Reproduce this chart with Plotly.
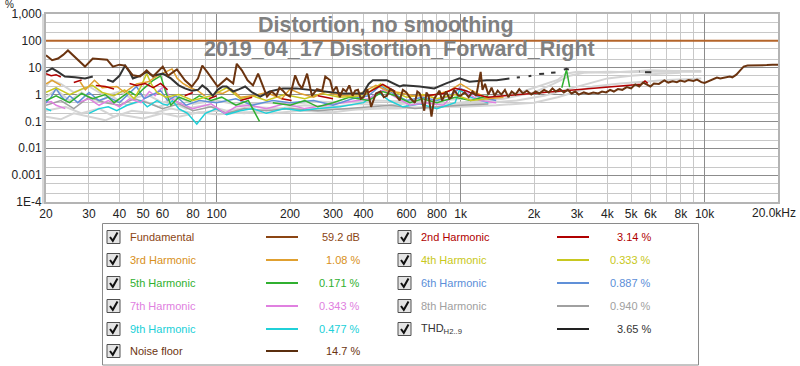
import math
import plotly.graph_objects as go

# ---------------- data (frequency in Hz, level in %) ----------------
fund_f = [20, 20000]
fund_v = [100, 100]

noise_f = [20, 21.2, 22.4, 23.5, 24.6, 26.3, 28.9, 31.1, 33.5, 35.6, 37.6, 40, 42.2, 45.4, 48.6, 51.7, 54.9,
           60.2, 63.2, 68.8, 74.2, 79.2, 84, 87.4, 91.5, 96.6, 101, 110, 117, 121, 127, 134, 141, 148, 155,
           161, 168, 176, 181, 187, 193, 200, 210, 217, 224, 235, 246, 258, 271, 279, 292, 300, 310, 320, 330,
           340, 350, 361, 370, 380, 390, 400, 415, 430, 450, 470, 485,
           499, 515, 530, 545, 563, 580, 600, 625, 650, 665, 680, 695, 710, 725, 740, 760, 780, 800, 820, 840,
           873, 900, 920, 940, 960, 980,
           1000, 1040, 1080, 1120, 1160, 1209, 1230, 1260, 1300, 1340, 1380, 1420, 1470, 1520, 1570, 1620,
           1680, 1740, 1800, 1870, 1950, 2030, 2100, 2200, 2300, 2380, 2455, 2550, 2650, 2750, 2850, 2950,
           3050, 3200, 3350, 3500, 3665, 3800, 3950, 4100, 4250, 4414, 4600, 4800, 5000, 5200, 5400, 5600,
           5835, 6000, 6200, 6500, 6842, 7100, 7400, 7700, 7947, 8300, 8600, 9000, 9315, 9700, 10000, 10300,
           10534, 10900, 11242, 11600, 12000, 12400, 12690, 13000, 13500, 14000, 14464, 15000, 16316, 17000,
           18000, 19000, 20000]
noise_v = [29, 19, 22, 30, 44, 25, 11, 22, 21, 20, 11, 13, 12, 5.2, 4.7, 8, 4.7,
           11, 5, 8.6, 3.4, 2, 4, 12, 7, 3.4, 2, 4, 2.6, 14, 8, 3.4, 2.2, 6, 2.2,
           0.84, 1.3, 0.92, 1.8, 1.4, 1.0, 0.84, 5.2, 2.5, 1.7, 6, 0.9, 1.6, 1.4, 4.7, 3.4, 1.3, 2.0, 0.8, 1.6,
           1.3, 2.2, 0.9, 1.4, 1.5, 0.7, 0.8, 1.6, 0.35, 1.1, 1.3, 0.8,
           0.9, 1.6, 1.4, 0.9, 0.6, 1.5, 1.2, 0.7, 0.5, 1.3, 1.1, 0.6, 0.25, 1.2, 0.9, 0.15, 0.7, 1.0, 1.4, 0.6,
           1.3, 0.7, 0.8, 1.5, 1.2, 0.9,
           0.9, 1.2, 0.8, 1.3, 0.9, 7, 1.5, 2.5, 1.0, 1.8, 0.9, 1.4, 1.0, 1.5, 0.8, 1.3,
           1.0, 1.6, 1.1, 1.4, 1.0, 1.3, 1.1, 1.5, 1.2, 1.7, 1.3, 1.6, 1.2, 1.5, 1.1, 1.3,
           1.0, 1.2, 1.05, 1.2, 1.1, 1.3, 1.2, 1.5, 1.3, 1.6, 1.5, 1.9, 1.7, 2.4, 2.0, 2.8,
           2.3, 2.0, 2.6, 2.5, 3.4, 2.8, 3.1, 2.9, 3.3, 3.0, 3.5, 3.2, 3.6, 2.9, 2.7, 3.0,
           3.2, 3.8, 4.3, 4.0, 4.3, 4.5, 4.7, 4.4, 5.5, 8, 11, 12, 12, 12.3,
           12.5, 12.8, 13]

thd_f = [20, 21.2, 22.4, 23.9, 26.3, 28.9, 31.1, 32.5, 35.6, 37.6, 40, 42.2, 44, 45.4, 48.6, 51.7, 54.9,
         60.2, 65, 70, 74.2, 79.2, 84, 87.4, 91.5, 96.6, 101, 106, 110, 117, 124, 131, 140, 151, 165, 187,
         212, 240, 265, 300, 329, 398, 420, 437, 499, 563, 583, 680, 780, 873, 991, 1088, 1280, 1407, 1586,
         1640, 1700, 1750, 1850, 1900, 1950, 2050, 2100, 2200, 2300, 2350, 2450, 2550, 2650, 2717, 2780,
         2900, 5400, 5420, 5500, 5700, 6050]
thd_v = [7, 9.4, 7, 4.7, 4.4, 4, 4.7, None, 3.6, 3, 5, 12, 7, 4, 5, 7, 5,
         6, 4, 2.2, 1.7, 1.4, 1.5, 2.2, 1.6, 0.9, 1.5, 2, 2, 1.3, 1.6, 2, 1.2, 0.84, 1.3, 1.7,
         1.7, 1.5, 1.4, 1.2, 1.1, 1.1, 2.5, 3.4, 3.4, 2, 2.2, 2, 1.7, 2.6, 4, 3, 3.4, 3.4, 4,
         None, 4.3, 4.4, None, 4.8, 5, None, 5.8, 6, None, 6.5, 6.7, None, 8.5, 9.2, 8.5,
         None, 7.2, 7.3, None, 6.8, 6.8]

h2_f = [20, 21, 22, 23, 24.5, 26, 28, 30, 32, 35, 38, 41, 44, 47, 51, 55, 59, 63, 68, 74, 80, 86, 93,
        100, 110, 125, 140, 160, 185, 203, 230, 260, 300, 350, 420, 480, 540, 620, 720, 850, 950, 1050,
        1150, 1300, 5500, 5700, 5850]
h2_v = [6, 5, 5.5, 4.5, None, 2.8, 3.5, None, 2.2, 2, 1.6, None, 2.6, 2.2, 2.6, 1.8, 2.6, 1.5, None, 0.9,
        1.2, None, 0.7, 0.9, None, 0.6, 0.8, None, 0.7, 0.6, None, 0.9, 0.7, None, 1.2, 2.4, 1.3, None, 0.9,
        1.1, 1.7, 1.4, 1.0, 0.8, 2.4, 3.2, 2.6]

h3_f = [20, 21.2, 23, 25, 27.6, 29, 31.6, 34, 39, 42, 47, 52.5, 57.1, 62, 65.7, 69, 72.8, 78, 83.6, 89.5,
        95, 100, 106, 115, 125, 141, 160, 185, 200, 220, 250, 280, 320, 380, 450, 500, 560, 640, 760, 900,
        1000, 1100, 1300, 1500]
h3_v = [2.5, 3.4, 2.2, None, 3, 1.5, 3.4, 1.8, 2, 1.2, 2.5, 3, 5, 7, 9, 4, 2.6, 1.8, 1.4, 0.9,
        None, 1.2, 1.1, 1.6, 0.8, 0.9, 1.2, 0.7, 1.6, 1.1, 0.8, 1.3, 0.9, 1.0, 2.2, 1.4, 1.2, 0.9, 0.9, 1.4,
        2.5, 1.5, 0.7, 0.8]

h4_f = [20, 22, 25, 28, 31, 34, 38, 42, 46, 49, 51.7, 54, 57, 62, 70, 80, 95, 110, 125, 140, 160, 190,
        230, 270, 320, 400, 470, 520, 600, 700, 800, 950, 1100, 1300]
h4_v = [1.2, 1.8, 1.0, 1.6, 2.2, 1.2, 0.9, 1.5, 0.7, 2, 6, 2.5, 1.2, 0.8, 1.0, 0.6, 0.9, 1.8, 0.7, 0.9,
        0.6, 1.0, 0.7, 1.1, 0.8, 0.9, 2.5, 1.4, 0.8, 1.0, 0.7, 1.0, 0.6, 0.7]

h5_f = [20, 22, 25, 28, 31, 35, 38, 41, 44, 47, 50, 55, 59, 62, 65, 70, 78, 85, 95, 105, 120, 135, 150,
        160, 170, 200, 230, 260, 300, 350, 420, 480, 540, 620, 700, 800, 950, 1100, 1300, 1400,
        2600, 2717, 2800]
h5_v = [0.6, 0.9, 0.5, 1.1, 0.7, 1.0, 0.5, 0.8, 1.3, 0.9, 1.6, 3.4, 5, 1.2, 0.4, 0.8, 0.55, 0.9, 0.6, 0.8,
        0.4, 0.6, 0.1, None, 0.5, 0.4, 0.6, 0.35, 0.5, 0.8, 0.6, 1.3, 0.9, 0.5, 0.7, 0.5, 0.8, 0.6, 0.9, None,
        1.8, 8.5, 1.9]

h6_f = [20, 21, 22, 23, 24, 25, 27, 30, 33, 36, 40, 43, 47, 50.5, 55.5, 59, 63, 68, 75, 85, 100, 120, 140,
        170, 200, 250, 300, 360, 420, 470, 520, 600, 700, 800, 900, 990, 1050, 1200, 1400]
h6_v = [0.5, 0.8, 1.7, 0.9, 0.6, 0.9, 0.5, 1.2, 0.6, 0.8, 0.5, 0.9, 2, 0.7, 1.1, 1.4, 0.6, 0.9, 0.4, 0.6,
        0.5, 0.7, 0.4, 0.6, 0.5, 0.6, 0.4, 0.7, 0.9, 2.2, 1.2, 0.6, 0.8, 0.6, 0.9, 1.7, 1.4, 0.8, 0.6]

h7_f = [20, 21, 22, 24, 26, 27, 30, 33, 36, 40, 44, 49, 53, 56, 58, 61, 64, 70, 80, 95, 108, 120, 137, 160,
        190, 230, 280, 340, 420, 480, 540, 620, 720, 850, 990, 1050, 1200, 1400]
h7_v = [0.5, 0.55, 0.4, 0.3, None, 0.5, 0.7, 0.4, 0.6, 0.35, 0.7, 0.5, 1.3, 0.9, 1.4, 2, 0.8, 0.5, 0.3,
        0.45, 0.2, 0.35, 0.4, 0.3, 0.45, 0.3, 0.4, 0.5, 0.7, 1.5, 0.8, 0.4, 0.5, 0.4, 1.8, 1.2, 0.6, 0.5]

h8_f = [20, 23, 26, 30, 35, 40, 46, 52, 60, 70, 80, 95, 110, 130, 160, 200, 260, 330, 420, 520, 650, 800,
        1000, 1300]
h8_v = [0.4, 0.6, 0.3, 0.8, 0.5, 0.4, 0.7, 0.5, 0.3, 0.45, 0.25, 0.35, 0.2, 0.3, 0.25, 0.3, 0.25, 0.3,
        0.35, 0.4, 0.3, 0.35, 0.4, 0.45]

h9_f = [20, 21, 24, 30, 33, 36, 39, 43, 49, 52, 55, 57, 60, 63, 66, 70, 76, 83, 90, 100, 110, 125, 141,
        160, 190, 220, 260, 320, 400, 460, 510, 580, 680, 800, 950, 990, 1100, 1300]
h9_v = [0.3, 0.25, None, 0.2, 0.3, 0.35, 0.25, 0.4, 0.6, 0.35, 0.5, 0.6, 0.45, 0.4, 0.6, 0.3, 0.2, 0.08,
        0.2, 0.3, 0.18, 0.25, 0.3, 0.2, 0.3, 0.25, 0.3, 0.35, 0.5, 1.2, 0.6, 0.35, 0.45, 0.3, 0.5, 1.5,
        0.8, 0.5]

# faded (below-noise) harmonic traces, drawn light grey
lg1_f = [20, 23, 26, 30, 35, 40, 50, 60, 70, 85, 100, 130, 170, 220, 300, 400, 550, 750, 1000, 1400, 2000,
         2500, 3000, 3500, 4500, 5500, 7000, 9700]
lg1_v = [0.15, 0.12, 0.2, 0.15, 0.11, 0.18, 0.13, 0.2, 0.15, 0.22, 0.18, 0.22, 0.2, 0.25, 0.22, 0.3, 0.3,
         0.35, 0.35, 0.4, 0.5, 0.8, 1.3, 2, 2.6, 3, 3.5, 4]
lg2_f = [20, 22, 25, 28, 32, 37, 43, 50, 58, 66, 75, 90, 110, 140, 180, 230, 300, 380, 500, 650, 850, 1100,
         1500, 2000, 2400, 2800, 3200, 4000, 5000, 6500, 8000, 9700]
lg2_v = [0.8, 1.5, 0.6, 1.2, 0.5, 0.9, 0.4, 0.6, 0.35, 0.5, 0.3, 0.4, 0.25, 0.35, 0.3, 0.4, 0.35, 0.45,
         0.4, 0.5, 0.45, 0.55, 0.7, 1.2, 2.5, 5, 6.5, 7, 6.8, 7.2, 7, 7]
lg3_f = [20, 21, 23, 26, 30, 35, 40, 45, 52, 60, 70, 80, 100, 125, 160, 200, 260, 330, 450, 600, 800, 1000,
         1300, 1700, 2100, 2500, 2700, 3000, 4000, 5000, 6000, 7500, 9700]
lg3_v = [2, 3.5, 2.5, 1.2, 2, 0.9, 1.3, 0.7, 1, 0.5, 0.8, 0.45, 0.6, 0.4, 0.5, 0.45, 0.55, 0.5, 0.6, 0.55,
         0.6, 0.7, 0.8, 1.1, 2, 3.5, 6, 7, 6.5, 7.5, 8, 7.5, 7.5]
lg4_f = [20, 24, 28, 33, 38, 45, 55, 65, 80, 100, 130, 170, 220, 300, 400, 550, 750, 1000, 1300, 1700, 2200,
         2700, 3300, 4000, 5000, 6500, 8000]
lg4_v = [0.25, 0.35, 0.2, 0.3, 0.15, 0.25, 0.2, 0.3, 0.2, 0.25, 0.2, 0.3, 0.28, 0.3, 0.28, 0.35, 0.3, 0.45,
         0.5, 0.6, 0.9, 1.5, 2.5, 4, 5, 6, 6.5]

x_tick_vals = [20, 30, 40, 50, 60, 80, 100, 200, 300, 400, 600, 800, 1000, 2000, 3000, 4000, 5000, 6000,
               8000, 10000]
x_tick_text = ["20", "30", "40", "50", "60", "80", "100", "200", "300", "400", "600", "800", "1k", "2k", "3k",
               "4k", "5k", "6k", "8k", "10k"]
x_end_label = "20.0kHz"
x_major_grid = [100, 1000, 10000]
y_tick_vals = [1e-4, 1e-3, 1e-2, 0.1, 1, 10, 100, 1000]
y_tick_text = ["1E-4", "0.001", "0.01", "0.1", "1", "10", "100", "1,000"]

legend_col1 = [("Fundamental", "#8B4513", "#8B4513", "59.2 dB"),
               ("3rd Harmonic", "#E0A030", "#D89020", "1.08 %"),
               ("5th Harmonic", "#30B030", "#30B030", "0.171 %"),
               ("7th Harmonic", "#E080E0", "#E080E0", "0.343 %"),
               ("9th Harmonic", "#20D0D8", "#20D0D8", "0.477 %"),
               ("Noise floor", "#5A2E0E", "#6B3410", "14.7 %")]
legend_col2 = [("2nd Harmonic", "#B00000", "#B00000", "3.14 %"),
               ("4th Harmonic", "#C8C820", "#C8C820", "0.333 %"),
               ("6th Harmonic", "#6090D8", "#5B8ED8", "0.887 %"),
               ("8th Harmonic", "#A0A0A0", "#A0A0A0", "0.940 %"),
               ("THD<sub>H2..9</sub>", "#222222", "#333333", "3.65 %")]

# ---------------- layout geometry ----------------
W, H = 800, 366
L, R, T, B = 46, 778, 14, 202


def px(xp):
    return (xp - L) / (R - L)


def py(yp):
    return (B - yp) / (B - T)


fig = go.Figure()


def add(fx, vy, color, width, name):
    fig.add_trace(go.Scatter(x=fx, y=vy, mode="lines", name=name, connectgaps=False,
                             line=dict(color=color, width=width), showlegend=False, hoverinfo="skip"))


for fx, vy in [(lg1_f, lg1_v), (lg4_f, lg4_v), (lg2_f, lg2_v), (lg3_f, lg3_v)]:
    add(fx, vy, "#D4D4D4", 2, "faded")
add(h8_f, h8_v, "#A0A0A0", 1.5, "8th")
add(h9_f, h9_v, "#20D0D8", 1.5, "9th")
add(h7_f, h7_v, "#E080E0", 1.5, "7th")
add(h6_f, h6_v, "#6090D8", 1.5, "6th")
add(h5_f, h5_v, "#30B030", 1.5, "5th")
add(h4_f, h4_v, "#C8C820", 1.5, "4th")
add(h3_f, h3_v, "#E0A030", 1.5, "3rd")
add(h2_f, h2_v, "#B00000", 1.5, "2nd")
add(thd_f, thd_v, "#333333", 2, "THD")
add(noise_f, noise_v, "#6B3410", 2, "Noise")
add(fund_f, fund_v, "#B5652A", 2, "Fundamental")

shapes = []
annotations = []
# titles
annotations.append(dict(text="<b>Distortion, no smoothing</b>", xref="paper", yref="paper", x=px(386), y=py(25),
                        xanchor="center", yanchor="middle", showarrow=False,
                        font=dict(family="Liberation Sans, Arial", size=21.5, color="#808080")))
annotations.append(dict(text="<b>2019_04_17 Distortion_Forward_Right</b>", xref="paper", yref="paper",
                        x=px(399), y=py(49), xanchor="center", yanchor="middle", showarrow=False,
                        font=dict(family="Liberation Sans, Arial", size=21.5, color="#808080")))
annotations.append(dict(text="%", xref="paper", yref="paper", x=px(9), y=py(4), xanchor="center",
                        yanchor="middle", showarrow=False,
                        font=dict(family="Liberation Sans, Arial", size=10, color="#222")))
annotations.append(dict(text=x_end_label, xref="paper", yref="paper", x=px(774), y=py(213), xanchor="center",
                        yanchor="middle", showarrow=False,
                        font=dict(family="Liberation Sans, Arial", size=12, color="#222")))

# left shadow of frame
shapes.append(dict(type="line", xref="paper", yref="paper", x0=px(L - 3), x1=px(L - 3), y0=py(B + 2),
                   y1=py(T), line=dict(color="#D8D8D8", width=2)))

# legend box
shapes.append(dict(type="path", xref="paper", yref="paper",
                   path=("M {a},{b} L {c},{b} L {c},{d} L {a},{d} Z").format(
                       a=px(102.5), b=py(223.5), c=px(698.5), d=py(365)),
                   line=dict(color="#8A8A8A", width=1), fillcolor="white"))

rows_y = [237, 260, 283, 306, 329, 351]
font_leg = "Liberation Sans, Arial"


def legend_entry(col_x, yc, name, line_col, text_col, value):
    cb0 = col_x
    shapes.append(dict(type="rect", xref="paper", yref="paper", x0=px(cb0), x1=px(cb0 + 13),
                       y0=py(yc + 6.5), y1=py(yc - 6.5), line=dict(color="#505050", width=1),
                       fillcolor="#E4E4E4"))
    shapes.append(dict(type="path", xref="paper", yref="paper",
                       path="M {},{} L {},{} L {},{}".format(px(cb0 + 3), py(yc), px(cb0 + 5.8), py(yc + 3.8),
                                                             px(cb0 + 10.5), py(yc - 4.5)),
                       line=dict(color="#111111", width=2)))
    annotations.append(dict(text=name, xref="paper", yref="paper", x=px(cb0 + 21), y=py(yc), xanchor="left",
                            yanchor="middle", showarrow=False,
                            font=dict(family=font_leg, size=11, color=text_col)))
    shapes.append(dict(type="line", xref="paper", yref="paper", x0=px(cb0 + 159), x1=px(cb0 + 191),
                       y0=py(yc), y1=py(yc), line=dict(color=line_col, width=2)))
    annotations.append(dict(text=value, xref="paper", yref="paper", x=px(cb0 + 255), y=py(yc),
                            xanchor="right", yanchor="middle", showarrow=False,
                            font=dict(family=font_leg, size=11, color=text_col)))


for i, (n, lc, tc, v) in enumerate(legend_col1):
    legend_entry(107, rows_y[i], n, lc, tc, v)
for i, (n, lc, tc, v) in enumerate(legend_col2):
    legend_entry(398, rows_y[i], n, lc, tc, v)

xr = [math.log10(20), math.log10(20000)]
fig.update_layout(
    width=W, height=H,
    margin=dict(l=L, r=W - R, t=T, b=H - B, pad=0, autoexpand=False),
    paper_bgcolor="white", plot_bgcolor="white",
    shapes=shapes, annotations=annotations,
    xaxis=dict(type="log", range=xr, tickmode="array", tickvals=x_tick_vals,
               ticktext=x_tick_text, showgrid=True, gridcolor="#C8C8C8", gridwidth=1,
               minor=dict(dtick="D1", showgrid=True, gridcolor="#C8C8C8", gridwidth=1, ticks=""),
               zeroline=False, showline=True, mirror=True, linecolor="#B4B4B4", linewidth=2, ticks="",
               automargin=False,
               tickfont=dict(family="Liberation Sans, Arial", size=12, color="#222")),
    xaxis2=dict(type="log", range=xr, overlaying="x", tickmode="array", tickvals=x_major_grid,
                showticklabels=False, showgrid=True, gridcolor="#8C8C8C", gridwidth=1, zeroline=False,
                automargin=False, ticks=""),
    yaxis=dict(type="log", range=[-4, 3], tickmode="array", tickvals=y_tick_vals, ticktext=y_tick_text,
               showgrid=True, gridcolor="#8C8C8C", gridwidth=1,
               minor=dict(dtick="D2", showgrid=True, gridcolor="#C8C8C8", gridwidth=1, ticks=""),
               zeroline=False, showline=True, mirror=True, linecolor="#B4B4B4", linewidth=2, ticks="",
               automargin=False,
               tickfont=dict(family="Liberation Sans, Arial", size=12, color="#222")),
)
# invisible trace to activate the overlay axis for the darker decade grid lines
fig.add_trace(go.Scatter(x=[100], y=[1], xaxis="x2", mode="markers", marker=dict(opacity=0),
                         showlegend=False, hoverinfo="skip"))

fig.write_html("out.html", config={"displayModeBar": False},
               post_script="document.body.style.margin='0';document.body.style.padding='0';"
                           "document.documentElement.style.overflow='hidden';")
